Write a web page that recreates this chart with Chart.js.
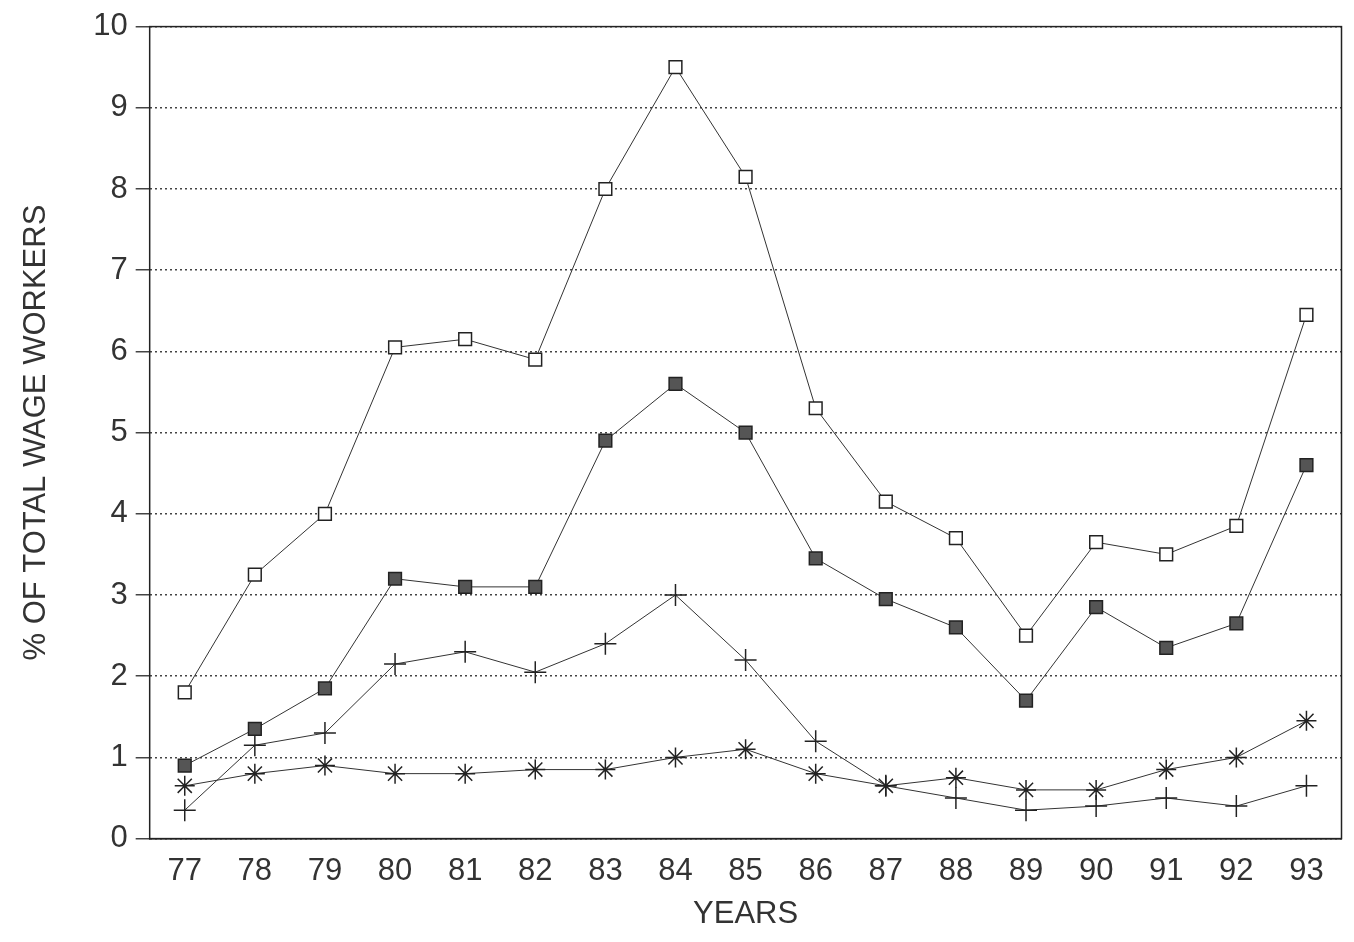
<!DOCTYPE html>
<html><head><meta charset="utf-8">
<script src="https://cdn.jsdelivr.net/npm/chart.js@4/dist/chart.umd.min.js"></script>
<style>html,body{margin:0;padding:0;background:#fff}#w{width:1354px;height:942px}</style>
</head><body><div id="w"><canvas id="c"></canvas></div>
<script>
const years = ["77","78","79","80","81","82","83","84","85","86","87","88","89","90","91","92","93"];
const openSquares = [1.8,3.25,4.0,6.05,6.15,5.9,8.0,9.5,8.15,5.3,4.15,3.7,2.5,3.65,3.5,3.85,6.45];
const filledSquares = [0.9,1.35,1.85,3.2,3.1,3.1,4.9,5.6,5.0,3.45,2.95,2.6,1.7,2.85,2.35,2.65,4.6];
const plusSeries = [0.35,1.15,1.3,2.15,2.3,2.05,2.4,3.0,2.2,1.2,0.65,0.5,0.35,0.4,0.5,0.4,0.65];
const starSeries = [0.65,0.8,0.9,0.8,0.8,0.85,0.85,1.0,1.1,0.8,0.65,0.75,0.6,0.6,0.85,1.0,1.45];
const yTicks = [0,1,2,3,4,5,6,7,8,9,10];

const frame = {id:'frame',afterDraw(ch){const a=ch.chartArea,x=ch.ctx;x.save();x.strokeStyle='#222';x.lineWidth=1.5;x.strokeRect(a.left,a.top,a.right-a.left,a.bottom-a.top);x.restore();}};
const font = {family:'"Liberation Sans", Arial, sans-serif', size:31};
const ds = (d,style,bg,r)=>({data:d,borderColor:'#333',borderWidth:1,pointStyle:style,pointBackgroundColor:bg,pointBorderColor:'#222',pointBorderWidth:1.5,pointRadius:r,tension:0});
new Chart(document.getElementById('c'),{
 type:'line',
 data:{labels:years,datasets:[
  ds(openSquares,'rect','#fff',9),
  ds(filledSquares,'rect','#555',9),
  ds(plusSeries,'cross','#222',11),
  ds(starSeries,'star','#222',10)
 ]},
 options:{responsive:true,maintainAspectRatio:false,animation:false,
  layout:{padding:{top:10,right:12,left:14,bottom:5}},
  plugins:{legend:{display:false},tooltip:{enabled:false}},
  scales:{
   x:{offset:true,grid:{display:false,drawTicks:true},border:{color:'#222',width:1.5},
      ticks:{font,color:'#333',padding:6},
      title:{display:true,text:'YEARS',font,color:'#333',padding:{top:0}}},
   y:{min:0,max:10,afterBuildTicks(s){s.ticks=yTicks.map(v=>({value:v}));},
      grid:{color:'#444',lineWidth:1.5,drawTicks:true,tickLength:14},
      border:{dash:[2,3],color:'#222'},
      ticks:{font,color:'#333',padding:8},
      title:{display:true,text:'% OF TOTAL WAGE WORKERS',font,color:'#333',padding:{bottom:30}}}
  }},
 plugins:[frame]
});
</script></body></html>
